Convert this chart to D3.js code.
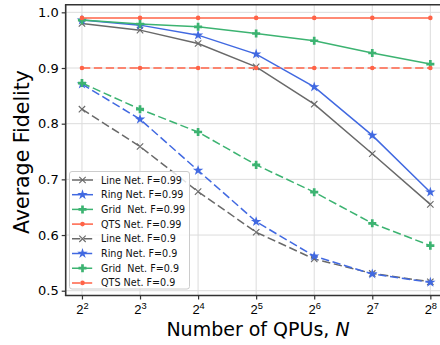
<!DOCTYPE html>
<html><head><meta charset="utf-8">
<script src="https://cdn.jsdelivr.net/npm/d3@7"></script>
<style>body{margin:0;background:#fff}svg{display:block;font-family:"DejaVu Sans",sans-serif}</style>
</head><body><svg id="c" width="440" height="345"></svg>
<script>
const exponents = [2,3,4,5,6,7,8];
const yTicks = [0.5,0.6,0.7,0.8,0.9,1.0];
const lineHigh = [0.980,0.968,0.944,0.902,0.835,0.746,0.655];
const ringHigh = [0.986,0.977,0.959,0.925,0.866,0.779,0.677];
const gridHigh = [0.986,0.979,0.974,0.962,0.949,0.927,0.907];
const qtsHigh  = [0.990,0.990,0.990,0.990,0.990,0.990,0.990];
const lineLow  = [0.826,0.759,0.678,0.605,0.557,0.531,0.516];
const ringLow  = [0.871,0.808,0.716,0.624,0.562,0.530,0.515];
const gridLow  = [0.873,0.826,0.785,0.726,0.677,0.621,0.581];
const qtsLow   = [0.900,0.900,0.900,0.900,0.900,0.900,0.900];
const seriesNames = ["Line Net. F=0.99","Ring Net. F=0.99","Grid\u00a0 Net. F=0.99","QTS Net. F=0.99",
                     "Line Net. F=0.9","Ring Net. F=0.9","Grid\u00a0 Net. F=0.9","QTS Net. F=0.9"];

const colors = {line:"#696969", ring:"#4169e1", grid:"#3cb371", qts:"#ff6347"};
const series = [
  {name:seriesNames[0], v:lineHigh, c:colors.line, m:"x", dash:false},
  {name:seriesNames[1], v:ringHigh, c:colors.ring, m:"star", dash:false},
  {name:seriesNames[2], v:gridHigh, c:colors.grid, m:"plus", dash:false},
  {name:seriesNames[3], v:qtsHigh, c:colors.qts, m:"dot", dash:false},
  {name:seriesNames[4], v:lineLow, c:colors.line, m:"x", dash:true},
  {name:seriesNames[5], v:ringLow, c:colors.ring, m:"star", dash:true},
  {name:seriesNames[6], v:gridLow, c:colors.grid, m:"plus", dash:true},
  {name:seriesNames[7], v:qtsLow, c:colors.qts, m:"dot", dash:true},
];

const svg = d3.select("#c");
const L = 65.7, R = 446.6, T = 4.7, B = 295.5;
const x = d3.scaleLinear().domain([1.72, 8.28]).range([L, R]);
const y = d3.scaleLinear().domain([0.4914, 1.0137]).range([B, T]);

// grid
const g = svg.append("g");
g.selectAll(".gx").data(exponents).enter().append("line")
  .attr("x1", d=>x(d)).attr("x2", d=>x(d)).attr("y1", T).attr("y2", B)
  .attr("stroke", "#dcdcdc").attr("stroke-width", 1);
g.selectAll(".gy").data(yTicks).enter().append("line")
  .attr("x1", L).attr("x2", R).attr("y1", d=>y(d)).attr("y2", d=>y(d))
  .attr("stroke", "#dcdcdc").attr("stroke-width", 1);

// axes
const xAxis = d3.axisBottom(x).tickValues(exponents).tickSize(4).tickPadding(4).tickFormat("");
const ax = svg.append("g").attr("transform", `translate(0,${B})`).call(xAxis);
ax.select(".domain").remove();
ax.selectAll(".tick line").attr("stroke", "#333").attr("stroke-width", 1.2);
ax.selectAll(".tick").append("text")
  .attr("y", 18.5).attr("fill", "#000").attr("text-anchor", "middle")
  .style("font-size", "13px")
  .each(function(d){
    const t = d3.select(this);
    t.append("tspan").text("2");
    t.append("tspan").attr("dy", -5.5).style("font-size", "9.3px").text(d);
  });

const yAxis = d3.axisLeft(y).tickValues(yTicks).tickSize(4).tickPadding(3).tickFormat(d3.format(".1f"));
const ay = svg.append("g").attr("transform", `translate(${L},0)`).call(yAxis);
ay.select(".domain").remove();
ay.selectAll(".tick line").attr("stroke", "#333").attr("stroke-width", 1.2);
ay.selectAll(".tick text").attr("fill", "#000").style("font-size", "13px").attr("font-family", "DejaVu Sans");

// spines
svg.append("line").attr("x1", L).attr("x2", L).attr("y1", T).attr("y2", B).attr("stroke", "#333").attr("stroke-width", 1.6);
svg.append("line").attr("x1", L-0.8).attr("x2", R).attr("y1", B).attr("y2", B).attr("stroke", "#333").attr("stroke-width", 1.6);
svg.append("line").attr("x1", L-0.8).attr("x2", R).attr("y1", T).attr("y2", T).attr("stroke", "#333").attr("stroke-width", 1.6);

// labels
svg.append("text").attr("x", 258).attr("y", 336).attr("text-anchor", "middle").style("font-size", "19px")
  .text("Number of QPUs, ").append("tspan").style("font-style", "italic").text("N");
svg.append("text").attr("transform", `translate(29,152) rotate(-90)`).attr("text-anchor", "middle")
  .style("font-size", "20.5px").text("Average Fidelity");

function drawMarker(sel, m, c, cx, cy) {
  if (m === "x") {
    const s = 3.2;
    sel.append("path").attr("d", `M${cx-s},${cy-s}L${cx+s},${cy+s}M${cx-s},${cy+s}L${cx+s},${cy-s}`)
      .attr("stroke", c).attr("stroke-width", 1.1).attr("fill", "none");
  } else if (m === "star") {
    sel.append("path").attr("d", d3.symbol(d3.symbolStar, 34)()).attr("transform", `translate(${cx},${cy})`).attr("fill", c);
  } else if (m === "plus") {
    sel.append("path").attr("d", d3.symbol(d3.symbolCross, 36)()).attr("transform", `translate(${cx},${cy})`).attr("fill", c);
  } else {
    sel.append("circle").attr("cx", cx).attr("cy", cy).attr("r", 2.3).attr("fill", c);
  }
}

const plot = svg.append("g");
const lineGen = d3.line().x((d,i)=>x(exponents[i])).y(d=>y(d));
series.forEach(s => {
  const gs = plot.append("g");
  gs.append("path").attr("d", lineGen(s.v)).attr("fill", "none").attr("stroke", s.c).attr("stroke-width", 1.5)
    .attr("stroke-dasharray", s.dash ? "8.3,3.6" : null);
  s.v.forEach((v,i) => drawMarker(gs, s.m, s.c, x(exponents[i]), y(v)));
});

// legend
const lg = svg.append("g");
lg.append("rect").attr("x", 69.5).attr("y", 171.5).attr("width", 120).attr("height", 117.5).attr("rx", 2.5)
  .attr("fill", "#fff").attr("fill-opacity", 0.8).attr("stroke", "#cccccc").attr("stroke-width", 1);
series.forEach((s, i) => {
  const yy = 180 + i * 14.7;
  lg.append("line").attr("x1", 72).attr("x2", 93).attr("y1", yy).attr("y2", yy).attr("stroke", s.c).attr("stroke-width", 1.5)
    .attr("stroke-dasharray", s.dash ? "8.3,3.6" : null);
  drawMarker(lg, s.m, s.c, 82.5, yy);
  lg.append("text").attr("x", 101).attr("y", yy + 3.5).style("font-size", "9.6px").attr("fill", "#111").text(s.name);
});
</script></body></html>
